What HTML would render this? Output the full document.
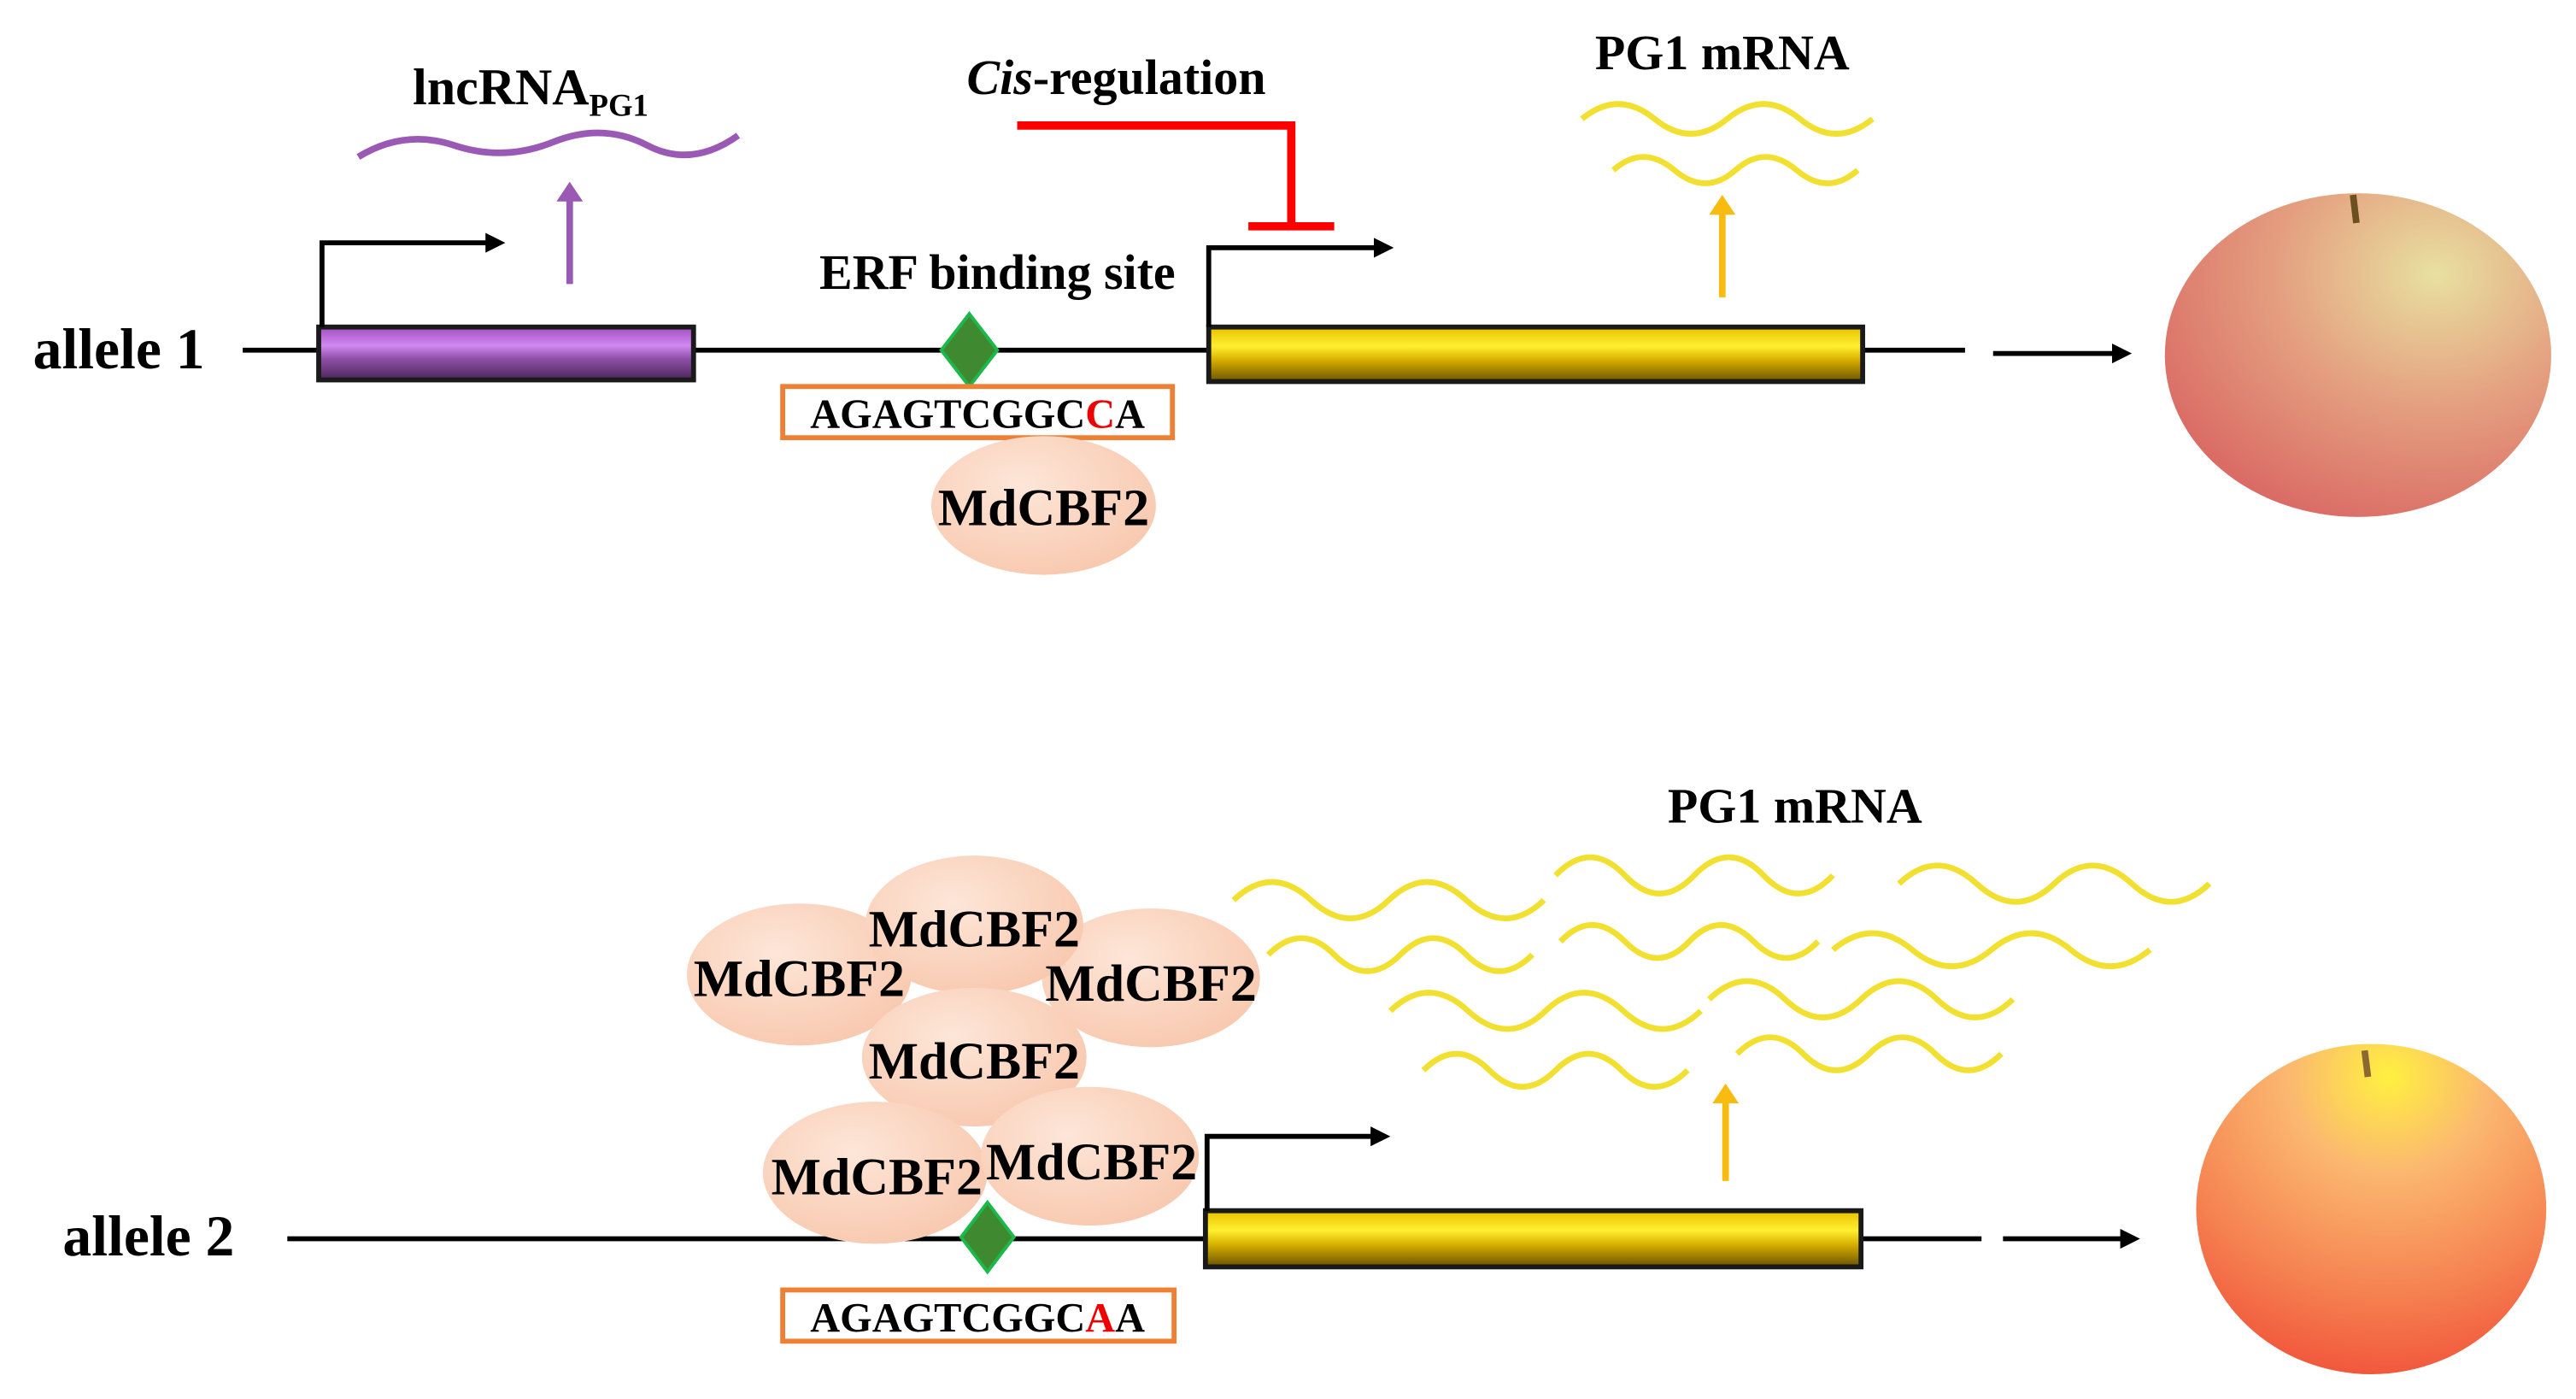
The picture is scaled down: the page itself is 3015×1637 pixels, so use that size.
<!DOCTYPE html>
<html><head><meta charset="utf-8"><style>
html,body{margin:0;padding:0;background:#fff;}
svg{display:block;}
text{font-family:"Liberation Serif",serif;font-weight:bold;}
</style></head><body>
<svg width="3015" height="1637" viewBox="0 0 1560 847" preserveAspectRatio="none" xmlns="http://www.w3.org/2000/svg">
<defs>
<linearGradient id="pur" x1="0" y1="0" x2="0" y2="1"><stop offset="0" stop-color="#a050c0"/><stop offset="0.35" stop-color="#d088f0"/><stop offset="0.6" stop-color="#9050a8"/><stop offset="1" stop-color="#4a2558"/></linearGradient>
<linearGradient id="yel" x1="0" y1="0" x2="0" y2="1"><stop offset="0" stop-color="#e8c000"/><stop offset="0.35" stop-color="#fff030"/><stop offset="0.6" stop-color="#d8b000"/><stop offset="1" stop-color="#6a5200"/></linearGradient>
<radialGradient id="cbf" cx="0.4" cy="0.35" r="0.7"><stop offset="0" stop-color="#fde6d8"/><stop offset="1" stop-color="#f8c8ae"/></radialGradient>
<radialGradient id="ap1" cx="0.7" cy="0.25" r="0.9"><stop offset="0" stop-color="#e8e0a0"/><stop offset="0.45" stop-color="#e4a080"/><stop offset="1" stop-color="#d86060"/></radialGradient>
<radialGradient id="ap2" cx="0.55" cy="0.1" r="0.95"><stop offset="0" stop-color="#fff040"/><stop offset="0.3" stop-color="#fbb870"/><stop offset="0.7" stop-color="#f58050"/><stop offset="1" stop-color="#f05038"/></radialGradient>
<marker id="ah" markerWidth="4" markerHeight="4" refX="2" refY="2" orient="auto" markerUnits="strokeWidth"><path d="M0,0 L4,2 L0,4 z" fill="#000"/></marker>
<marker id="ahp" markerWidth="3" markerHeight="4" refX="1" refY="2" orient="auto" markerUnits="strokeWidth"><path d="M0,0 L3,2 L0,4 z" fill="#9b59b6"/></marker>
<marker id="ahy" markerWidth="3" markerHeight="4" refX="1" refY="2" orient="auto" markerUnits="strokeWidth"><path d="M0,0 L3,2 L0,4 z" fill="#f8bc10"/></marker>
</defs>

<!-- allele 1 -->
<text x="20" y="223" font-size="35">allele 1</text>
<line x1="147" y1="212" x2="1190" y2="212" stroke="#000" stroke-width="3"/>
<rect x="193" y="198" width="227" height="32" fill="url(#pur)" stroke="#1a1a1a" stroke-width="3"/>
<rect x="732" y="198" width="396" height="33" fill="url(#yel)" stroke="#1a1a1a" stroke-width="3"/>
<path d="M195,198 V147 H300" fill="none" stroke="#000" stroke-width="3" marker-end="url(#ah)"/>
<line x1="345" y1="172" x2="345" y2="118" stroke="#9b59b6" stroke-width="4" marker-end="url(#ahp)"/>
<text x="250" y="63" font-size="31">lncRNA<tspan font-size="19" dy="7">PG1</tspan></text>
<path d="M217,95 Q245,78 275,88 T335,86 T392,88 T447,82" fill="none" stroke="#9b59b6" stroke-width="4"/>
<text x="604" y="175" font-size="30" text-anchor="middle">ERF binding site</text>
<polygon points="587,190 604,212 587,234 570,212" fill="#3f8a30" stroke="#1bb84a" stroke-width="2"/>
<rect x="474" y="234" width="236" height="31" fill="#fff" stroke="#ee7f33" stroke-width="3"/>
<text x="592" y="259" font-size="25" text-anchor="middle">AGAGTCGGC<tspan fill="#e00">C</tspan>A</text>
<ellipse cx="632" cy="306" rx="68" ry="42" fill="url(#cbf)"/>
<text x="632" y="318" font-size="32" text-anchor="middle">MdCBF2</text>
<text x="676" y="57" font-size="30" text-anchor="middle"><tspan font-style="italic">Cis</tspan>-regulation</text>
<path d="M616,76 H782 V137" fill="none" stroke="#f00" stroke-width="5"/>
<line x1="756" y1="137" x2="808" y2="137" stroke="#f00" stroke-width="5"/>
<path d="M732,198 V150 H838" fill="none" stroke="#000" stroke-width="3" marker-end="url(#ah)"/>
<line x1="1043" y1="180" x2="1043" y2="126" stroke="#f8bc10" stroke-width="4" marker-end="url(#ahy)"/>
<text x="1043" y="42" font-size="30" text-anchor="middle">PG1 mRNA</text>
<g fill="none" stroke="#f2e030" stroke-width="3.5">
<path d="M958,72 q22,-18 44,0 t44,0 t44,0 t44,0"/>
<path d="M977,103 q18,-16 37,0 t37,0 t37,0 t37,0"/>
</g>
<line x1="1207" y1="214" x2="1285" y2="214" stroke="#000" stroke-width="3" marker-end="url(#ah)"/>
<ellipse cx="1428" cy="215" rx="117" ry="98" fill="url(#ap1)"/>
<path d="M1425,118 L1427,135" stroke="#6b5020" stroke-width="4"/>

<!-- allele 2 -->
<text x="38" y="760" font-size="35">allele 2</text>
<line x1="174" y1="750" x2="1200" y2="750" stroke="#000" stroke-width="3"/>
<rect x="730" y="733" width="397" height="34" fill="url(#yel)" stroke="#1a1a1a" stroke-width="3"/>
<path d="M731,733 V688 H836" fill="none" stroke="#000" stroke-width="3" marker-end="url(#ah)"/>
<line x1="1045" y1="715" x2="1045" y2="664" stroke="#f8bc10" stroke-width="4" marker-end="url(#ahy)"/>
<text x="1087" y="498" font-size="30" text-anchor="middle">PG1 mRNA</text>
<g fill="none" stroke="#f2e030" stroke-width="3.5">
<path d="M747,545 q23,-22 47,0 t47,0 t47,0 t47,0"/>
<path d="M942,530 q21,-22 42,0 t42,0 t42,0 t42,0"/>
<path d="M1150,535 q23,-22 47,0 t47,0 t47,0 t47,0"/>
<path d="M768,578 q20,-20 40,0 t40,0 t40,0 t40,0"/>
<path d="M945,570 q19,-20 39,0 t39,0 t39,0 t39,0"/>
<path d="M1110,575 q24,-20 48,0 t48,0 t48,0 t48,0"/>
<path d="M842,612 q23,-22 47,0 t47,0 t47,0 t47,0"/>
<path d="M1035,605 q23,-22 46,0 t46,0 t46,0 t46,0"/>
<path d="M862,648 q20,-20 40,0 t40,0 t40,0 t40,0"/>
<path d="M1052,638 q20,-20 40,0 t40,0 t40,0 t40,0"/>
</g>
<ellipse cx="484" cy="590" rx="68" ry="43" fill="url(#cbf)"/>
<ellipse cx="697" cy="592" rx="66" ry="42" fill="url(#cbf)"/>
<ellipse cx="590" cy="560" rx="66" ry="42" fill="url(#cbf)"/>
<ellipse cx="590" cy="640" rx="68" ry="42" fill="url(#cbf)"/>
<ellipse cx="530" cy="710" rx="68" ry="43" fill="url(#cbf)"/>
<ellipse cx="660" cy="700" rx="66" ry="42" fill="url(#cbf)"/>
<text x="484" y="603" font-size="32" text-anchor="middle">MdCBF2</text>
<text x="590" y="573" font-size="32" text-anchor="middle">MdCBF2</text>
<text x="697" y="606" font-size="32" text-anchor="middle">MdCBF2</text>
<text x="590" y="653" font-size="32" text-anchor="middle">MdCBF2</text>
<text x="531" y="723" font-size="32" text-anchor="middle">MdCBF2</text>
<text x="661" y="714" font-size="32" text-anchor="middle">MdCBF2</text>
<polygon points="598,728 614,749 598,770 582,749" fill="#3f8a30" stroke="#1bb84a" stroke-width="2"/>
<rect x="474" y="781" width="237" height="31" fill="#fff" stroke="#ee7f33" stroke-width="3"/>
<text x="592" y="806" font-size="25" text-anchor="middle">AGAGTCGGC<tspan fill="#e00">A</tspan>A</text>
<line x1="1213" y1="750" x2="1290" y2="750" stroke="#000" stroke-width="3" marker-end="url(#ah)"/>
<ellipse cx="1436" cy="732" rx="106" ry="100" fill="url(#ap2)"/>
<path d="M1432,636 L1434,652" stroke="#8a6a30" stroke-width="4"/>
</svg>
</body></html>
